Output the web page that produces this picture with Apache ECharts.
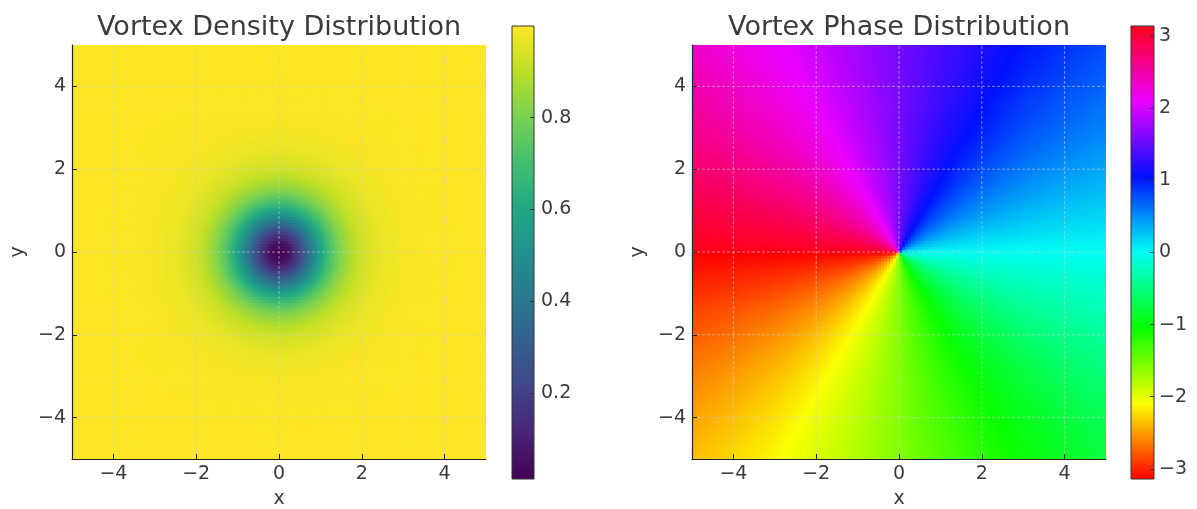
<!DOCTYPE html>
<html>
<head>
<meta charset="utf-8">
<script src="https://cdn.jsdelivr.net/npm/echarts@6/dist/echarts.min.js"></script>
<style>
  html, body { margin: 0; padding: 0; background: #fff; }
  #main { width: 1197px; height: 509px; }
</style>
</head>
<body>
<div id="main"></div>
<script>
// radial density profile |psi|^2 (r in plot units)
const profileR = [0, 0.25, 0.5, 0.75, 1.0, 1.25, 1.5, 1.75, 2.0, 2.5, 3.0, 3.5, 4.0, 5.0, 7.1];
const profileDensity = [0.0, 0.06, 0.21, 0.40, 0.58, 0.72, 0.82, 0.88, 0.93, 0.97, 0.99, 0.996, 0.999, 1.0, 1.0];

const axisTicks = [-4, -2, 0, 2, 4];
const densityTicks = [0.2, 0.4, 0.6, 0.8];
const phaseTicks = [-3, -2, -1, 0, 1, 2, 3];

const GRID_N = 140; // cells per side
const EXTENT = 5;

const VIRIDIS = ['#440154', '#482475', '#414487', '#355f8d', '#2a788e', '#21918c',
  '#22a884', '#44bf70', '#7ad151', '#bddf26', '#fde725'];
const HSV = ['#ff0000', '#fbff00', '#08ff00', '#00fff3', '#0010ff', '#eb00ff', '#ff0018'];

const TEXT = '#3b3b3b';
const FONT = 'DejaVu Sans';
const FS = 19;

function densityAt(r) {
  for (let k = 1; k < profileR.length; k++) {
    if (r <= profileR[k]) {
      const t = (r - profileR[k - 1]) / (profileR[k] - profileR[k - 1]);
      return profileDensity[k - 1] + t * (profileDensity[k] - profileDensity[k - 1]);
    }
  }
  return profileDensity[profileDensity.length - 1];
}

const densityCells = [];
const phaseCells = [];
const step = 2 * EXTENT / GRID_N;
for (let i = 0; i < GRID_N; i++) {
  for (let j = 0; j < GRID_N; j++) {
    const x = -EXTENT + (i + 0.5) * step;
    const y = -EXTENT + (j + 0.5) * step;
    densityCells.push([x, y, densityAt(Math.hypot(x, y))]);
    phaseCells.push([x, y, Math.atan2(y, x)]);
  }
}
let dMin = Infinity, dMax = -Infinity;
densityCells.forEach(c => { dMin = Math.min(dMin, c[2]); dMax = Math.max(dMax, c[2]); });
const pMin = -Math.PI, pMax = Math.PI;

const minus = v => (v < 0 ? '\u2212' + Math.abs(v) : String(v));

function cellItem(params, api) {
  const x = api.value(0), y = api.value(1), h = step / 2;
  const a = api.coord([x - h, y + h]);
  const b = api.coord([x + h, y - h]);
  return {
    type: 'rect',
    shape: { x: a[0], y: a[1], width: b[0] - a[0] + 0.7, height: b[1] - a[1] + 0.7 },
    style: { fill: api.visual('color') }
  };
}

function gridLineItem(params, api) {
  const v = api.value(0), dir = api.value(1);
  const a = dir === 0 ? api.coord([v, -EXTENT]) : api.coord([-EXTENT, v]);
  const b = dir === 0 ? api.coord([v, EXTENT]) : api.coord([EXTENT, v]);
  return {
    type: 'line',
    shape: { x1: a[0], y1: a[1], x2: b[0], y2: b[1] },
    style: { stroke: 'rgba(205,205,205,0.75)', lineWidth: 0.8, lineDash: [3, 2] }
  };
}
const gridLineData = axisTicks.map(v => [v, 0]).concat(axisTicks.map(v => [v, 1]));

function colorbarItem(colors) {
  return function (params, api) {
    const lo = api.value(1), hi = api.value(2);
    const a = api.coord([0, hi]);
    const b = api.coord([1, lo]);
    const stops = colors.map((c, k) => ({ offset: 1 - k / (colors.length - 1), color: c }));
    return {
      type: 'rect',
      shape: { x: a[0], y: a[1], width: b[0] - a[0], height: b[1] - a[1] },
      style: {
        fill: new echarts.graphic.LinearGradient(0, 0, 0, 1, stops),
        stroke: '#333', lineWidth: 1
      }
    };
  };
}

function plotX(gridIndex) {
  return {
    type: 'value', gridIndex, min: -EXTENT, max: EXTENT, z: 10,
    name: 'x', nameLocation: 'middle', nameGap: 31,
    nameTextStyle: { color: TEXT, fontSize: FS, fontFamily: FONT },
    axisLine: { show: true, onZero: false, lineStyle: { color: '#222', width: 1.2 } },
    axisTick: { show: true, inside: true, length: 5, customValues: axisTicks, lineStyle: { color: '#222' } },
    axisLabel: { customValues: axisTicks, formatter: minus, margin: 6, color: TEXT, fontSize: FS, fontFamily: FONT },
    splitLine: { show: false }
  };
}
function plotY(gridIndex) {
  return {
    type: 'value', gridIndex, min: -EXTENT, max: EXTENT, z: 10,
    name: 'y', nameLocation: 'middle', nameGap: 44,
    nameTextStyle: { color: TEXT, fontSize: FS, fontFamily: FONT },
    axisLine: { show: true, onZero: false, lineStyle: { color: '#222', width: 1.2 } },
    axisTick: { show: true, inside: true, length: 5, customValues: axisTicks, lineStyle: { color: '#222' } },
    axisLabel: { customValues: axisTicks, formatter: minus, margin: 6, color: TEXT, fontSize: FS, fontFamily: FONT },
    splitLine: { show: false }
  };
}
function barX(gridIndex) {
  return { type: 'value', gridIndex, min: 0, max: 1, show: false };
}
function barY(gridIndex, lo, hi, ticks, fmt, margin) {
  return {
    type: 'value', gridIndex, min: lo, max: hi, position: 'right', z: 10,
    axisLine: { show: false, onZero: false },
    axisTick: { show: true, inside: true, length: 4, customValues: ticks, lineStyle: { color: '#333' } },
    axisLabel: { customValues: ticks, formatter: fmt, margin, color: TEXT, fontSize: FS, fontFamily: FONT },
    splitLine: { show: false }
  };
}

const chart = echarts.init(document.getElementById('main'), null, { renderer: 'canvas' });
chart.setOption({
  animation: false,
  backgroundColor: '#fff',
  title: [
    { text: 'Vortex Density Distribution', left: 274, top: 9, textAlign: 'center',
      textStyle: { color: TEXT, fontSize: 27, fontWeight: 'normal', fontFamily: FONT } },
    { text: 'Vortex Phase Distribution', left: 894, top: 9, textAlign: 'center',
      textStyle: { color: TEXT, fontSize: 27, fontWeight: 'normal', fontFamily: FONT } }
  ],
  grid: [
    { left: 72, top: 45, width: 414, height: 414, outerBoundsMode: 'none', containLabel: false },
    { left: 512, top: 26, width: 22, height: 453, outerBoundsMode: 'none', containLabel: false },
    { left: 692, top: 45, width: 414, height: 414, outerBoundsMode: 'none', containLabel: false },
    { left: 1131, top: 26, width: 23, height: 453, outerBoundsMode: 'none', containLabel: false }
  ],
  xAxis: [plotX(0), barX(1), plotX(2), barX(3)],
  yAxis: [
    plotY(0),
    barY(1, dMin, dMax, densityTicks, v => v.toFixed(1), 7),
    plotY(2),
    barY(3, pMin, pMax, phaseTicks, minus, 5)
  ],
  visualMap: [
    { type: 'continuous', show: false, seriesIndex: 0, dimension: 2, min: dMin, max: dMax,
      inRange: { color: VIRIDIS } },
    { type: 'continuous', show: false, seriesIndex: 3, dimension: 2, min: pMin, max: pMax,
      inRange: { color: HSV } }
  ],
  series: [
    { type: 'custom', name: 'density', xAxisIndex: 0, yAxisIndex: 0, data: densityCells,
      renderItem: cellItem, clip: true, progressive: 0, silent: true, z: 2 },
    { type: 'custom', xAxisIndex: 0, yAxisIndex: 0, data: gridLineData,
      renderItem: gridLineItem, silent: true, z: 5 },
    { type: 'custom', xAxisIndex: 1, yAxisIndex: 1, data: [[0, dMin, dMax]],
      renderItem: colorbarItem(VIRIDIS), silent: true },
    { type: 'custom', name: 'phase', xAxisIndex: 2, yAxisIndex: 2, data: phaseCells,
      renderItem: cellItem, clip: true, progressive: 0, silent: true, z: 2 },
    { type: 'custom', xAxisIndex: 2, yAxisIndex: 2, data: gridLineData,
      renderItem: gridLineItem, silent: true, z: 5 },
    { type: 'custom', xAxisIndex: 3, yAxisIndex: 3, data: [[0, pMin, pMax]],
      renderItem: colorbarItem(HSV), silent: true }
  ]
});
</script>
</body>
</html>
